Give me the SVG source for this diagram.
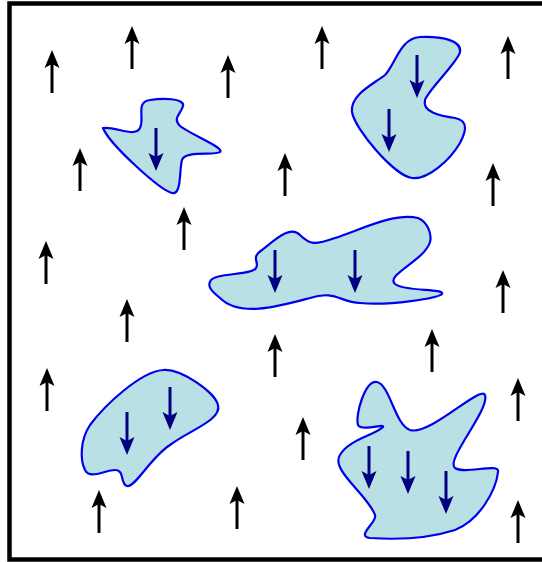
<svg xmlns="http://www.w3.org/2000/svg" xmlns:xlink="http://www.w3.org/1999/xlink" width="542" height="562" viewBox="0 0 542 562">
<style>
.blob{fill:#b9e0e5;stroke:#0000ee;stroke-width:2.2;stroke-linejoin:round}
.up line{stroke:#000;stroke-width:3}
.up path{fill:#000}
.dn line{stroke:#000080;stroke-width:3}
.dn path{fill:#000080}
</style>
<defs>
<g id="ua" class="up"><line x1="0" y1="43" x2="0" y2="12"/><path d="M0,0 L-7.5,18 L0,14 L7.5,18 Z"/></g>
<g id="da" class="dn"><line x1="0" y1="0" x2="0" y2="31"/><path d="M0,43 L-7.5,25 L0,29 L7.5,25 Z"/></g>
</defs>
<rect x="9.5" y="3.5" width="540" height="556" fill="#fff" stroke="#000" stroke-width="4.5"/>
<g id="domain1">
<path class="blob" d="M103,128 C115,126 135,138 140,128 C145,118 135,102 150,100 C162,98 185,98 183,106 C181,114 172,118 180,126 C190,134 225,148 220,152 C215,156 185,150 182,160 C179,170 182,195 172,193 C160,190 110,145 103,128 Z"/>
<use xlink:href="#da" x="156" y="128"/>
</g>
<g id="domain2">
<path class="blob" d="M352,112 C350,95 372,85 385,75 C395,65 400,38 420,37 C440,36 462,40 460,52 C458,62 428,90 425,100 C422,112 440,116 455,118 C470,121 465,133 460,143 C450,160 428,180 412,178 C395,176 355,130 352,112 Z"/>
<use xlink:href="#da" x="417" y="55"/>
<use xlink:href="#da" x="389" y="109"/>
</g>
<g id="domain3">
<path class="blob" d="M210,282 C212,272 252,276 256,268 C260,262 250,258 262,250 C275,240 290,225 300,235 C310,245 315,245 335,238 C360,230 395,212 418,218 C428,222 432,235 430,242 C425,260 385,275 395,284 C405,292 445,288 442,294 C438,298 390,306 360,303 C340,302 335,290 310,298 C280,306 240,318 220,298 C210,290 208,286 210,282 Z"/>
<use xlink:href="#da" x="275" y="250"/>
<use xlink:href="#da" x="355" y="250"/>
</g>
<g id="domain4">
<path class="blob" d="M163,370 C180,368 215,392 218,405 C222,420 190,430 170,445 C150,458 135,488 127,486 C120,484 125,470 115,470 C105,470 90,480 85,470 C80,460 80,440 90,425 C105,405 140,372 163,370 Z"/>
<use xlink:href="#da" x="127" y="412"/>
<use xlink:href="#da" x="170" y="387"/>
</g>
<g id="domain5">
<path class="blob" d="M377,382 C390,385 395,425 410,430 C430,436 480,385 485,395 C490,410 445,460 455,468 C465,475 500,462 498,472 C496,490 480,520 455,530 C430,538 400,540 370,538 C355,536 378,522 375,515 C368,495 330,470 340,455 C348,440 375,435 383,427 C385,423 362,432 358,425 C355,415 365,380 377,382 Z"/>
<use xlink:href="#da" x="369" y="446"/>
<use xlink:href="#da" x="408" y="451"/>
<use xlink:href="#da" x="446" y="471"/>
</g>
<g id="spins-up">
<use xlink:href="#ua" x="52" y="50"/>
<use xlink:href="#ua" x="132" y="26"/>
<use xlink:href="#ua" x="228" y="55"/>
<use xlink:href="#ua" x="322" y="26"/>
<use xlink:href="#ua" x="508" y="36"/>
<use xlink:href="#ua" x="80" y="148"/>
<use xlink:href="#ua" x="285" y="153"/>
<use xlink:href="#ua" x="184" y="207"/>
<use xlink:href="#ua" x="493" y="163"/>
<use xlink:href="#ua" x="46" y="241"/>
<use xlink:href="#ua" x="127" y="299"/>
<use xlink:href="#ua" x="503" y="270"/>
<use xlink:href="#ua" x="275" y="334"/>
<use xlink:href="#ua" x="432" y="329"/>
<use xlink:href="#ua" x="47" y="368"/>
<use xlink:href="#ua" x="518" y="378"/>
<use xlink:href="#ua" x="303" y="417"/>
<use xlink:href="#ua" x="99" y="490"/>
<use xlink:href="#ua" x="237" y="486"/>
<use xlink:href="#ua" x="518" y="500"/>
</g>
</svg>
